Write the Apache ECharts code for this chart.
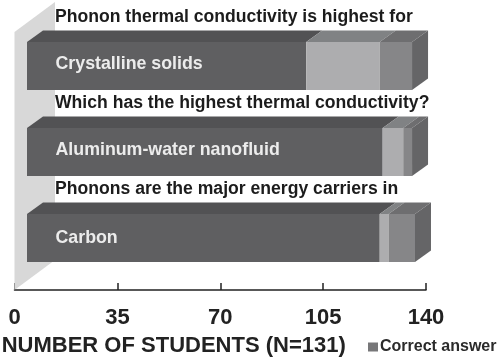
<!DOCTYPE html>
<html><head><meta charset="utf-8">
<style>html,body{margin:0;padding:0;background:#fff}#c{width:500px;height:359px}</style>
<script src="https://cdn.jsdelivr.net/npm/echarts@6/dist/echarts.min.js"></script>
</head><body><div id="c"></div>
<script>
const questions = ['Phonon thermal conductivity is highest for','Which has the highest thermal conductivity?','Phonons are the major energy carriers in'];
const categories = ['Crystalline solids','Aluminum-water nanofluid','Carbon'];
const darkCounts = [95,121,120];
const lightCounts = [25,7,3];
const correctCounts = [11,3,9];
const tickValues = [0,35,70,105,140];
const FONT = '"Liberation Sans", Arial, sans-serif';

const shift = [12.5,-9], depth = [16,-11.5], wallDepth = [40.5,-30];
const labelNudge = [0,0,2.5];
const poly = (points, fill) => ({type:'polygon',shape:{points},style:{fill}});

function segRender(colors, isLast){
  return function(params, api){
    const cat = api.value(2);
    const band = api.size([0,1])[1];
    const h = band*0.558;
    const a = api.coord([api.value(0),cat]);
    const b = api.coord([api.value(1),cat]);
    const x0 = a[0]+shift[0], x1 = b[0]+shift[0];
    const yc = a[1]+shift[1], y0 = yc-h/2, y1 = yc+h/2;
    const kids = [
      poly([[x0,y0],[x1,y0],[x1+depth[0],y0+depth[1]],[x0+depth[0],y0+depth[1]]], colors.top),
      poly([[x0,y0],[x1,y0],[x1,y1],[x0,y1]], colors.front)
    ];
    if(isLast) kids.push(poly([[x1,y0],[x1+depth[0],y0+depth[1]],[x1+depth[0],y1+depth[1]],[x1,y1]], colors.side));
    return {type:'group',children:kids};
  };
}
const stack = (i,part) => {
  const d = darkCounts[i], l = lightCounts[i], c = correctCounts[i];
  return part===0 ? [0,d,i] : part===1 ? [d,d+l,i] : [d+l,d+l+c,i];
};
const seg = (name,part,colors,last) => ({
  name, type:'custom', coordinateSystem:'cartesian2d', z:3,
  itemStyle:{color:colors.legend||colors.front},
  renderItem:segRender(colors,last),
  encode:{x:[0,1],y:2},
  data:categories.map((_,i)=>stack(i,part))
});

const option = {
  animation:false,
  backgroundColor:'#fff',
  grid:{left:14.5,right:74,top:32,height:258,containLabel:false,outerBoundsMode:'none'},
  legend:{data:['Correct answer'],left:363,top:334,itemWidth:10,itemHeight:9,icon:'rect',itemGap:3,
    textStyle:{fontFamily:FONT,fontWeight:'bold',fontSize:16,color:'#2b2b2b',padding:[0,0,0,-3]}},
  xAxis:{type:'value',min:0,max:140,interval:35,
    name:'NUMBER OF STUDENTS (N=131)',nameLocation:'middle',nameGap:45,
    nameTextStyle:{fontFamily:FONT,fontWeight:'bold',fontSize:22,color:'#222',padding:[0,93,0,0]},
    axisLine:{show:true,lineStyle:{color:'#222',width:1.5}},
    axisTick:{show:true,inside:true,length:7,lineStyle:{color:'#222',width:1.5}},
    axisLabel:{margin:17,fontFamily:FONT,fontWeight:'bold',fontSize:22,color:'#222',
      customValues:tickValues,showMinLabel:true,showMaxLabel:true},
    splitLine:{show:false}},
  yAxis:{type:'category',data:categories,inverse:true,show:false},
  series:[
    {type:'custom',name:'wall',coordinateSystem:'cartesian2d',z:1,silent:true,data:[[0,0]],encode:{x:0,y:1},
     renderItem:(p)=>{const s=p.coordSys;return poly([[s.x,s.y],[s.x+wallDepth[0],s.y+wallDepth[1]],[s.x+wallDepth[0],s.y+s.height+wallDepth[1]],[s.x,s.y+s.height]],'#d8d8d8');}},
    seg('Other answer A',0,{front:'#5f5f61',top:'#525254',side:'#5f5f61'},false),
    seg('Other answer B',1,{front:'#adadaf',top:'#808284',side:'#adadaf'},false),
    seg('Correct answer',2,{front:'#868688',top:'#6e6e70',side:'#656567',legend:'#777779'},true),
    {type:'custom',name:'text',coordinateSystem:'cartesian2d',z:5,silent:true,encode:{x:0,y:1},
     data:categories.map((_,i)=>[0,i]),
     renderItem:(p,api)=>{
       const i=api.value(1);
       const c=api.coord([0,i]);
       const band=api.size([0,1])[1];
       return {type:'group',children:[
         {type:'text',style:{text:categories[i],x:c[0]+41,y:c[1]+shift[1]-2+labelNudge[i],fill:'#ececec',
           font:'bold 17.8px '+FONT,textAlign:'left',textVerticalAlign:'middle'}},
         {type:'text',style:{text:questions[i],x:c[0]+40.5,y:c[1]-band/2-15,fill:'#1c1c1c',
           font:'bold 17.6px '+FONT,textAlign:'left',textVerticalAlign:'middle'}}
       ]};
     }}
  ]
};
echarts.init(document.getElementById('c'),null,{renderer:'canvas'}).setOption(option);
</script></body></html>
